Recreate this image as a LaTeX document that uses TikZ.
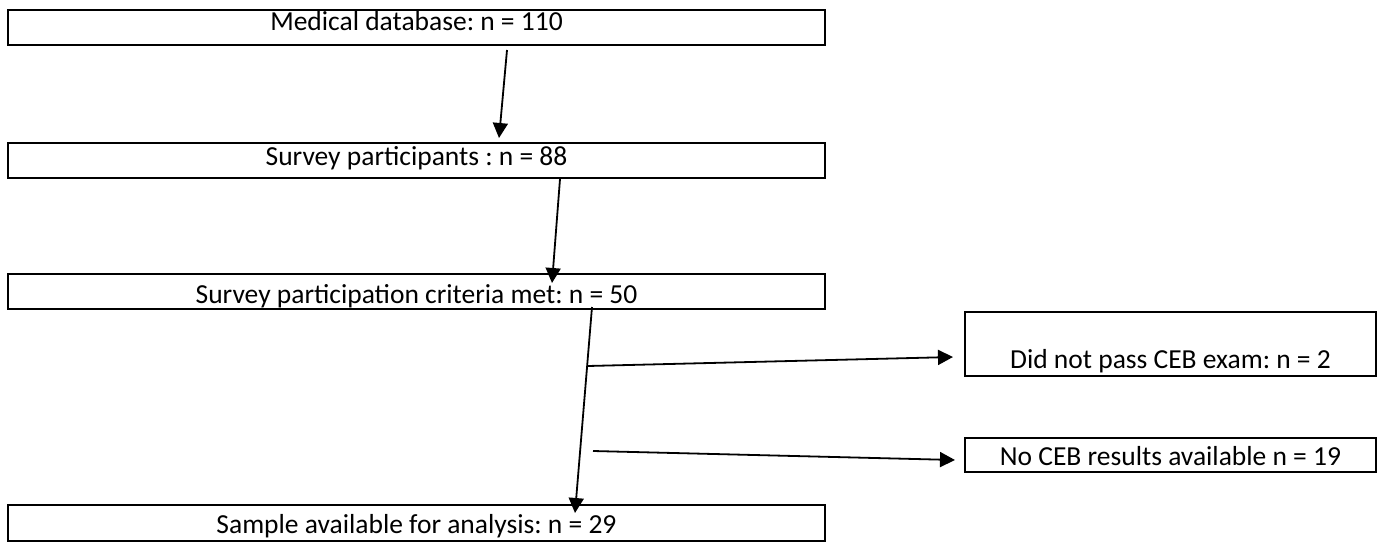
\documentclass[tikz,border=0pt]{standalone}
\usepackage{fontspec}
\setmainfont{Carlito}
\usetikzlibrary{arrows.meta,calc}
\frenchspacing
\begin{document}
\begin{tikzpicture}[x=1pt,y=-1pt,
  box/.style={draw, line width=1.9pt, inner sep=0pt, outer sep=0pt, anchor=north west, align=center, font=\fontsize{27.5}{32}\selectfont},
  wide/.style={box, minimum width=817pt},
  side/.style={box, minimum width=411pt},
  arr/.style={line width=1.8pt, -{Triangle[length=15pt,width=15pt]}}]
\useasboundingbox (0,0) rectangle (1387,543);
\node[wide, text height=21pt, text depth=14pt] (db) at (8,10) {Medical database: n = 110};
\node[wide, text height=22pt, text depth=13pt] (sp) at (8,143) {Survey participants : n = 88};
\node[wide, text height=29pt, text depth=6pt] (cm) at (8,274) {Survey participation criteria met: n = 50};
\node[wide, text height=28pt, text depth=8pt] (sa) at (8,505) {Sample available for analysis: n = 29};
\node[side, text height=56pt, text depth=8pt] (np) at (965,312) {Did not pass CEB exam: n = 2};
\node[side, text height=27pt, text depth=7pt] (nr) at (965,438) {No CEB results available n = 19};
\coordinate (s1) at ($(cm.south west)+(580,57)$);
\coordinate (s2) at ($(cm.south west)+(585,142)$);
\draw[arr] ($(db.south west)+(499,5)$) -- ($(sp.north west)+(491,-5)$);
\draw[arr] ($(sp.south west)+(552,1)$) -- ($(cm.north west)+(544,9)$);
\draw[arr] ($(cm.south west)+(584,-2)$) -- ($(sa.north west)+(567,8)$);
\draw[arr] (s1) -- ($(np.south west)+(-12,-19)$);
\draw[arr] (s2) -- ($(nr.west)+(-10,5)$);
\end{tikzpicture}
\end{document}
